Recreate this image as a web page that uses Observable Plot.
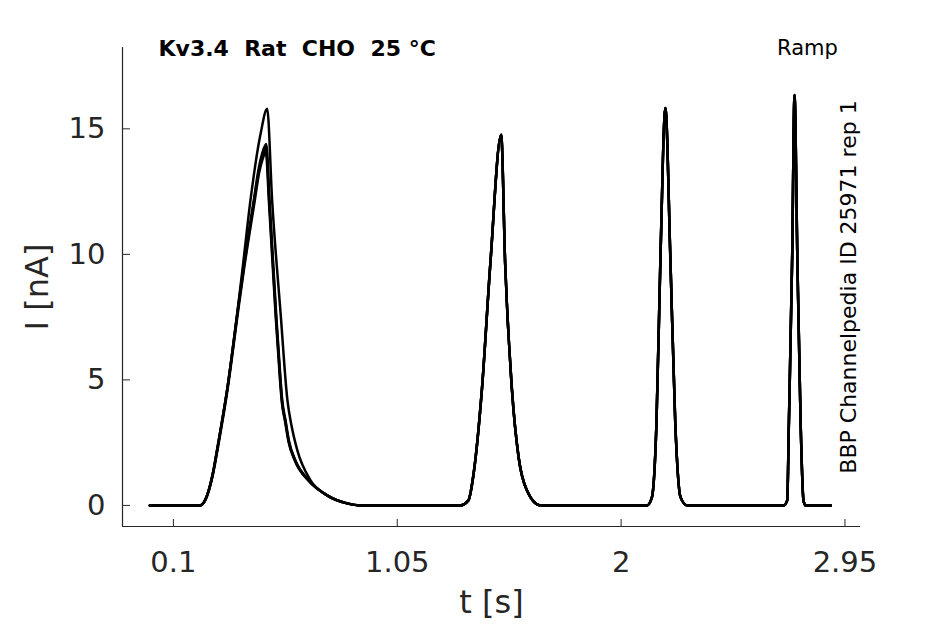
<!DOCTYPE html>
<html>
<head>
<meta charset="utf-8">
<script src="https://cdn.jsdelivr.net/npm/d3@7"></script>
<script src="https://cdn.jsdelivr.net/npm/@observablehq/plot@0.6"></script>
<style>
  body { margin: 0; background: #fff; }
  svg text { white-space: pre; }
</style>
</head>
<body>
<div id="chart"></div>
<script>
// ---- tick labels & text ----
const xTicks = [0.1, 1.05, 2, 2.95];
const yTicks = [0, 5, 10, 15];
const xDomain = [-0.116, 3.016];
const yDomain = [-0.84, 18.24];
const titleText = "Kv3.4  Rat  CHO  25 °C";
const protocolText = "Ramp";
const sourceText = "BBP Channelpedia ID 25971 rep 1";
const xLabel = "t [s]";
const yLabel = "I [nA]";

// ---- first ramp pulse, one array pair per trace ----
const traceNames = ["rep A", "rep B", "rep C", "rep D"];
const tA1 = [0, 0.213, 0.234, 0.250, 0.268, 0.289, 0.328, 0.371, 0.392, 0.427, 0.470, 0.498, 0.519, 0.555, 0.584, 0.601, 0.626, 0.682, 0.753, 0.838, 0.894];
const iA1 = [0, 0, 0.2, 0.6, 1.3, 2.4, 4.6, 7.65, 9.3, 12.15, 14.8, 15.8, 12.15, 7.65, 4.18, 3.19, 2.19, 1.0, 0.4, 0.08, 0];
const tB1 = [0, 0.213, 0.234, 0.250, 0.268, 0.289, 0.328, 0.376, 0.399, 0.441, 0.463, 0.478, 0.494, 0.508, 0.536, 0.555, 0.562, 0.576, 0.590, 0.618, 0.675, 0.753, 0.838, 0.894];
const iB1 = [0, 0, 0.2, 0.6, 1.3, 2.4, 4.6, 8.0, 9.6, 12.15, 13.47, 14.06, 14.4, 12.15, 7.65, 4.98, 4.18, 3.38, 2.59, 1.79, 1.0, 0.4, 0.08, 0];
const tC1 = [0, 0.213, 0.234, 0.250, 0.268, 0.289, 0.328, 0.376, 0.400, 0.442, 0.464, 0.479, 0.493, 0.507, 0.535, 0.554, 0.561, 0.575, 0.589, 0.617, 0.674, 0.752, 0.837, 0.894];
const iC1 = [0, 0, 0.2, 0.6, 1.3, 2.4, 4.6, 7.95, 9.55, 12.1, 13.4, 13.95, 14.25, 12.1, 7.6, 4.95, 4.15, 3.36, 2.58, 1.78, 1.0, 0.4, 0.08, 0];
const tD1 = [0, 0.214, 0.235, 0.251, 0.269, 0.290, 0.329, 0.377, 0.401, 0.443, 0.465, 0.479, 0.492, 0.506, 0.534, 0.553, 0.560, 0.574, 0.588, 0.616, 0.673, 0.751, 0.836, 0.894];
const iD1 = [0, 0, 0.2, 0.6, 1.28, 2.36, 4.55, 7.9, 9.5, 12.0, 13.3, 13.8, 14.1, 12.0, 7.55, 4.92, 4.12, 3.34, 2.56, 1.77, 0.98, 0.4, 0.08, 0];

// ---- pulses 2-4 (traces overlap) ----
const tRest = [1.317, 1.352, 1.374, 1.409, 1.445, 1.491, 1.508, 1.537, 1.565, 1.600, 1.657,
               2.110, 2.131, 2.150, 2.167, 2.188, 2.209, 2.230, 2.252, 2.280,
               2.690, 2.705, 2.712, 2.726, 2.736, 2.748, 2.762, 2.774, 2.783, 2.890];
const iRest = [0, 0.2, 1.26, 4.58, 9.62, 14.76, 9.62, 4.58, 1.92, 0.6, 0,
               0, 0.33, 3.25, 9.88, 15.83, 9.88, 3.25, 0.33, 0,
               0, 0.2, 3.25, 9.88, 16.35, 9.88, 3.25, 0.2, 0, 0];

const firstT = [tA1, tB1, tC1, tD1];
const firstI = [iA1, iB1, iC1, iD1];
const rows = [];
traceNames.forEach((name, k) => {
  firstT[k].forEach((t, j) => rows.push({trace: name, t, I: firstI[k][j]}));
  tRest.forEach((t, j) => rows.push({trace: name, t, I: iRest[j]}));
});

const axisColor = "#262626";
const chart = Plot.plot({
  width: 945,
  height: 624,
  marginLeft: 122,
  marginRight: 85,
  marginTop: 47,
  marginBottom: 98,
  style: {fontFamily: "DejaVu Sans, sans-serif", background: "#fff", color: axisColor},
  x: {domain: xDomain},
  y: {domain: yDomain},
  marks: [
    Plot.ruleY([yDomain[0]], {stroke: axisColor, strokeWidth: 1.2}),
    Plot.ruleX([xDomain[0]], {stroke: axisColor, strokeWidth: 1.2}),
    Plot.axisX(xTicks, {tickSize: -7, tickPadding: 32, fontSize: 29, tickFormat: d => String(d), label: null, stroke: axisColor, fill: axisColor}),
    Plot.axisY(yTicks, {tickSize: -8, tickPadding: 25, fontSize: 29, tickFormat: d => String(d), label: null, stroke: axisColor, fill: axisColor}),
    Plot.line(rows, {x: "t", y: "I", z: "trace", stroke: "#000", strokeWidth: 2.5, curve: "monotone-x"}),
    Plot.text([titleText], {frameAnchor: "top-left", dx: 36, dy: -7, textAnchor: "start", fontWeight: "bold", fontSize: 22, fill: "#000"}),
    Plot.text([protocolText], {frameAnchor: "top-right", dx: -53, dy: -7, textAnchor: "middle", fontSize: 21, fill: "#000"}),
    Plot.text([sourceText], {frameAnchor: "right", dx: -12, rotate: -90, textAnchor: "middle", fontSize: 22, fill: "#000"}),
    Plot.text([xLabel], {frameAnchor: "bottom", dy: 86, textAnchor: "middle", fontSize: 32, fill: axisColor}),
    Plot.text([yLabel], {frameAnchor: "left", dx: -85, rotate: -90, textAnchor: "middle", fontSize: 32, fill: axisColor})
  ]
});
document.getElementById("chart").append(chart);
</script>
</body>
</html>
